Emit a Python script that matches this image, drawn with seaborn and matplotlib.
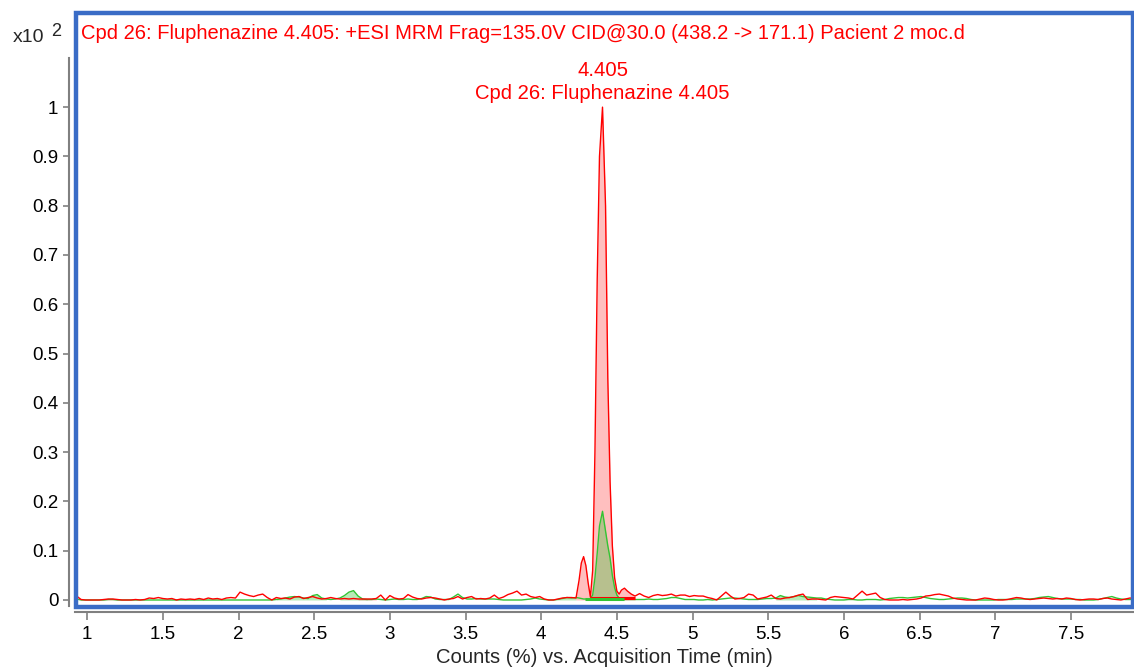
"""MRM chromatogram of fluphenazine (Cpd 26), patient 2 urine sample
"""

import numpy as np
import pandas as pd
import matplotlib
matplotlib.use("Agg")
import matplotlib.pyplot as plt
from matplotlib.patches import Rectangle
import seaborn as sns

# acquisition grid (min) outside the peak window, 0.03 min steps
t_pre = np.round(np.arange(0.93, 4.2001, 0.03), 3)
t_post = np.round(np.arange(4.65, 7.9201, 0.03), 3)
t_peak = [4.23, 4.25, 4.265, 4.28, 4.295, 4.31, 4.325, 4.34, 4.355, 4.37, 4.385, 4.405,
          4.425, 4.44, 4.455, 4.47, 4.485, 4.50, 4.515, 4.53, 4.55, 4.57, 4.595, 4.62]

# counts in units of 0.001 (x10^2 %)
red_pre = [8, 1, 0, 0, 0, 0, 1, 2, 2, 1,
           0, 0, 0, 1, 0, 1, 4, 3, 5, 3,
           2, 3, 0, 2, 1, 2, 1, 3, 1, 4,
           2, 3, 1, 4, 5, 4, 16, 12, 9, 7,
           10, 12, 5, 0, 5, 3, 4, 2, 6, 7,
           3, 5, 7, 4, 2, 3, 5, 3, 2, 3,
           2, 3, 2, 2, 2, 2, 3, 10, 0, 9,
           4, 2, 3, 11, 6, 3, 2, 4, 5, 4,
           2, 0, 2, 3, 7, 2, 5, 7, 2, 3,
           2, 4, 10, 3, 6, 11, 14, 18, 10, 12,
           7, 5, 7, 2, 0, 0, 2, 4, 5, 5]
red_peak = [4, 40, 75, 88, 70, 35, 6, 60, 300, 650, 900, 1000,
            800, 450, 240, 110, 45, 18, 12, 20, 24, 18, 12, 8]
red_post = [13, 8, 5, 9, 11, 9, 10, 12, 8, 10,
            10, 7, 9, 8, 8, 5, 3, 0, 8, 16,
            8, 2, 3, 5, 12, 10, 2, 4, 6, 10,
            3, 2, 4, 5, 7, 10, 12, 1, 2, 2,
            1, 0, 5, 7, 6, 5, 4, 2, 10, 18,
            10, 12, 14, 5, 1, 0, 0, 0, 1, 0,
            1, 2, 4, 8, 9, 11, 12, 10, 8, 4,
            2, 1, 0, 0, 0, 2, 4, 3, 1, 0,
            0, 1, 3, 5, 4, 2, 1, 2, 3, 4,
            3, 2, 3, 2, 4, 3, 1, 0, 1, 2,
            2, 1, 3, 4, 2, 1, 0, 2, 4, 3]

green_pre = [2, 0, 0, 0, 0, 0, 0, 1, 1, 0,
             0, 0, 0, 0, 0, 0, 0, 0, 0, 0,
             0, 0, 0, 0, 0, 0, 0, 0, 0, 0,
             0, 0, 0, 0, 0, 0, 0, 0, 0, 0,
             0, 0, 0, 0, 1, 2, 4, 6, 7, 6,
             4, 3, 9, 11, 4, 2, 1, 2, 4, 9,
             16, 19, 8, 2, 1, 1, 2, 1, 0, 1,
             2, 1, 1, 2, 1, 1, 3, 7, 6, 2,
             1, 1, 1, 6, 12, 5, 2, 2, 3, 2,
             2, 2, 2, 1, 0, 0, 0, 0, 0, 1,
             2, 4, 2, 1, 0, 0, 1, 3, 5, 4]
green_peak = [5, 4, 3, 2, 2, 2, 3, 10, 45, 95, 150, 180,
              140, 110, 85, 50, 25, 10, 4, 2, 1, 1, 1, 1]
green_post = [1, 1, 2, 1, 1, 2, 3, 5, 5, 3,
              1, 1, 1, 0, 0, 1, 0, 1, 2, 3,
              4, 4, 3, 2, 1, 1, 1, 2, 3, 3,
              4, 9, 6, 5, 7, 9, 7, 6, 5, 4,
              4, 2, 1, 0, 0, 0, 1, 1, 0, 0,
              1, 1, 1, 0, 1, 3, 4, 5, 5, 4,
              5, 6, 7, 5, 3, 2, 1, 1, 2, 3,
              4, 4, 3, 1, 0, 0, 0, 0, 0, 1,
              1, 1, 1, 2, 2, 2, 2, 3, 5, 6,
              7, 5, 3, 2, 2, 2, 1, 1, 0, 0,
              0, 1, 3, 5, 7, 4, 2, 1, 1, 2]

# integrated windows (start, end) and integration baseline level
red_windows = [(1.11, 1.23), (2.79, 2.91), (4.23, 4.325), (4.325, 4.62)]
green_windows = [(2.25, 2.58), (2.67, 2.85), (4.11, 4.23), (4.325, 4.56), (5.55, 5.82)]
red_base = (4.325, 4.62, 0.004)
green_base = (4.29, 4.55, 0.002)

peak_rt = 4.405
peak_height = 1.0
title = "Cpd 26: Fluphenazine 4.405: +ESI MRM Frag=135.0V CID@30.0 (438.2 -> 171.1) Pacient 2 moc.d"
peak_label = "Cpd 26: Fluphenazine 4.405"
x_ticks = [1, 1.5, 2, 2.5, 3, 3.5, 4, 4.5, 5, 5.5, 6, 6.5, 7, 7.5]
x_tick_labels = ["1", "1.5", "2", "2.5", "3", "3.5", "4", "4.5", "5", "5.5", "6", "6.5", "7", "7.5"]
y_ticks = [0, 0.1, 0.2, 0.3, 0.4, 0.5, 0.6, 0.7, 0.8, 0.9, 1]
y_tick_labels = ["0", "0.1", "0.2", "0.3", "0.4", "0.5", "0.6", "0.7", "0.8", "0.9", "1"]

time = np.concatenate([t_pre, t_peak, t_post])
df = pd.concat([
    pd.DataFrame({"time": time, "counts": np.array(red_pre + red_peak + red_post) / 1000, "trace": "quant"}),
    pd.DataFrame({"time": time, "counts": np.array(green_pre + green_peak + green_post) / 1000, "trace": "qual"}),
])

sns.set_style("white")
plt.rcParams["font.family"] = ["Liberation Sans", "DejaVu Sans"]

RED = "#FF0000"
GREEN = "#33C433"
BLUE = "#3A6CC6"
GREY = "#808080"

fig = plt.figure(figsize=(11.34, 6.70), dpi=100)
ax = fig.add_axes([75.5 / 1134, 1 - 606.5 / 670, (1133 - 75.5) / 1134, (606.5 - 13) / 670])

# integrated areas
for trace, windows, col, alpha in [("quant", red_windows, RED, 0.25), ("qual", green_windows, GREEN, 0.35)]:
    d = df[df.trace == trace]
    for a, b in windows:
        m = (d.time >= a - 1e-6) & (d.time <= b + 1e-6)
        ax.fill_between(d.time[m], d.counts[m], 0, color=col, alpha=alpha, lw=0)

sns.lineplot(data=df, x="time", y="counts", hue="trace", palette={"quant": RED, "qual": GREEN},
             hue_order=["qual", "quant"], estimator=None, lw=1, legend=False, ax=ax)

ax.hlines(red_base[2], red_base[0], red_base[1], color=RED, lw=2.2)
ax.hlines(green_base[2], green_base[0], green_base[1], color=GREEN, lw=2.2)

ax.annotate(peak_label, (peak_rt, peak_height), xytext=(0, 14), textcoords="offset pixels",
            ha="center", va="center", color=RED, fontsize=14.6)
ax.annotate(f"{peak_rt:.3f}", (peak_rt, peak_height), xytext=(0, 37), textcoords="offset pixels",
            ha="center", va="center", color=RED, fontsize=14.6)

ax.text(0.005, 0.965, title, transform=ax.transAxes, color=RED, fontsize=14.5, ha="left", va="center")

ax.set_xlim(0.923, 7.91)
ax.set_ylim(-0.0132, 1.191)

ax.set_xticks(x_ticks)
ax.set_xticklabels(x_tick_labels)
ax.set_yticks(y_ticks)
ax.set_yticklabels(y_tick_labels)
ax.tick_params(axis="both", labelsize=13.5, colors=GREY, labelcolor="black", width=1.2)
ax.tick_params(axis="y", length=4.3, pad=3, left=True)
ax.tick_params(axis="x", length=5.8, pad=4.2, bottom=True)

for s in ["top", "right"]:
    ax.spines[s].set_visible(False)
ax.spines["left"].set_position(("outward", 5))
ax.spines["left"].set_bounds(-0.013, 1.10)
ax.spines["bottom"].set_position(("outward", 4))
for s in ["left", "bottom"]:
    ax.spines[s].set_color(GREY)
    ax.spines[s].set_linewidth(1.5)

ax.add_patch(Rectangle((0, 0), 1, 1, transform=ax.transAxes, fill=False, edgecolor=BLUE,
                       lw=3.2, clip_on=False, zorder=5))

ax.set_xlabel("Counts (%) vs. Acquisition Time (min)", fontsize=14.6, labelpad=3.5)
ax.set_ylabel("")

fig.text(13 / 1134, 1 - 37 / 670, "x10", fontsize=14, ha="left", va="center")
fig.text(51 / 1134, 1 - 31 / 670, "2", fontsize=13, ha="left", va="center")

plt.savefig("out.png", dpi=100)
